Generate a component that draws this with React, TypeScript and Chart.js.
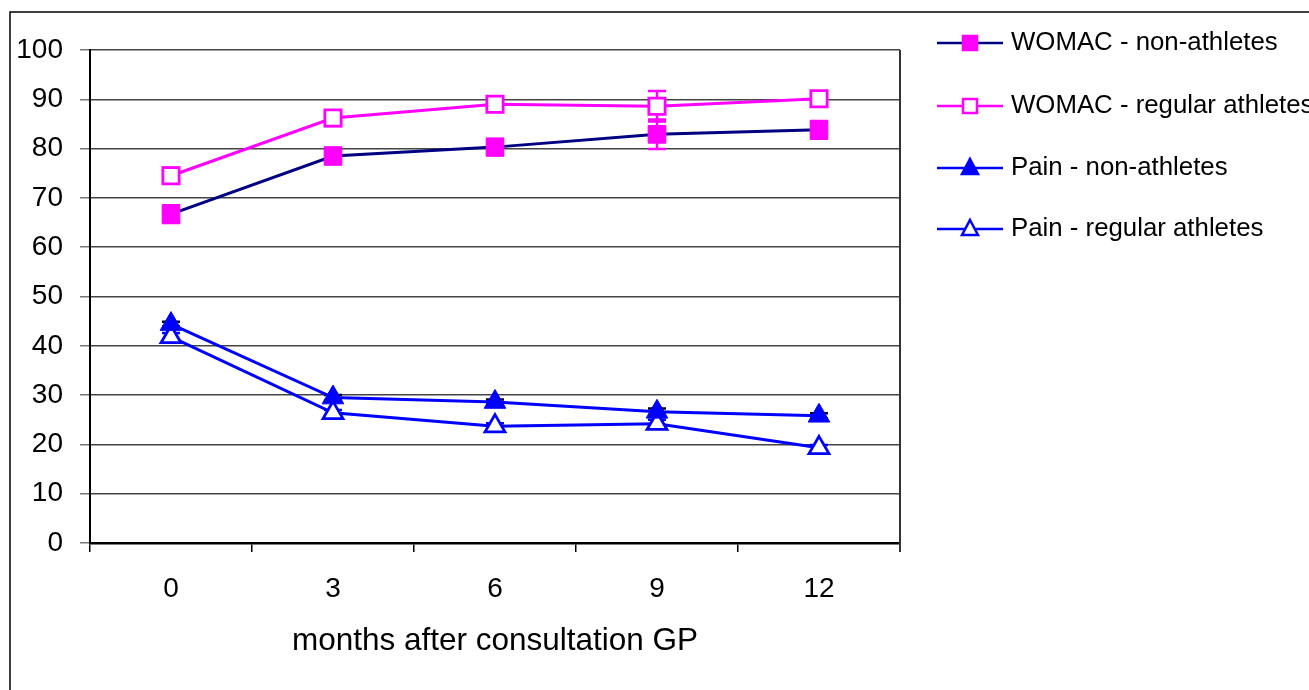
import React, { useEffect, useRef } from 'react';
import { Chart, registerables } from 'chart.js';
Chart.register(...registerables);

const FONT = '"Liberation Sans", Arial, sans-serif';

const categories = ['0', '3', '6', '9', '12'];
const yTicks = [0, 10, 20, 30, 40, 50, 60, 70, 80, 90, 100];

const womacNon = [66.7, 78.5, 80.3, 82.9, 83.8];
const womacNonErr = [1.8, 1.7, 1.7, 3.0, 1.8];
const womacReg = [74.5, 86.2, 89.0, 88.6, 90.1];
const womacRegErr = [1.6, 1.6, 1.5, 3.1, 1.3];
const painNon = [44.4, 29.5, 28.6, 26.6, 25.8];
const painNonErr = [0.5, 0.5, 0.5, 0.7, 0.5];
const painReg = [41.8, 26.4, 23.7, 24.2, 19.3];
const painRegErr = [0.8, 0.6, 0.6, 0.8, 0.6];

const seriesNames = [
  'WOMAC - non-athletes',
  'WOMAC - regular athletes',
  'Pain - non-athletes',
  'Pain - regular athletes',
];
const xTitle = 'months after consultation GP';

const NAVY = '#000080';
const MAGENTA = '#FF00FF';
const BLUE = '#0000FF';

const errors = [womacNonErr, womacRegErr, painNonErr, painRegErr];
const errColors = [MAGENTA, MAGENTA, '#000000', BLUE];

const errorBarPlugin = {
  id: 'errorBars',
  beforeDatasetsDraw(chart: any) {
    const { ctx } = chart;
    const y = chart.scales.y;
    chart.data.datasets.forEach((ds: any, i: number) => {
      const meta = chart.getDatasetMeta(i);
      const errs = errors[i];
      ctx.save();
      ctx.strokeStyle = errColors[i];
      ctx.lineWidth = 2.5;
      meta.data.forEach((pt: any, j: number) => {
        const v = ds.data[j];
        const e = errs[j];
        const top = y.getPixelForValue(v + e);
        const bot = y.getPixelForValue(v - e);
        const x = pt.x;
        ctx.beginPath();
        ctx.moveTo(x, top);
        ctx.lineTo(x, bot);
        ctx.moveTo(x - 9, top);
        ctx.lineTo(x + 9, top);
        ctx.moveTo(x - 9, bot);
        ctx.lineTo(x + 9, bot);
        ctx.stroke();
      });
      ctx.restore();
    });
  },
};

function drawMarker(ctx: CanvasRenderingContext2D, style: string, x: number, y: number, fill: string, stroke: string) {
  ctx.save();
  ctx.fillStyle = fill;
  ctx.strokeStyle = stroke;
  ctx.lineWidth = 2.5;
  ctx.beginPath();
  if (style === 'rect') {
    ctx.rect(x - 7, y - 7, 14, 14);
  } else {
    ctx.moveTo(x, y - 9);
    ctx.lineTo(x + 8, y + 6);
    ctx.lineTo(x - 8, y + 6);
    ctx.closePath();
  }
  ctx.fill();
  ctx.stroke();
  ctx.restore();
}

const framePlugin = {
  id: 'frameAndLegend',
  afterDraw(chart: any) {
    const { ctx, chartArea } = chart;
    ctx.save();
    // right border of plot area
    ctx.strokeStyle = '#333333';
    ctx.lineWidth = 2;
    ctx.beginPath();
    ctx.moveTo(chartArea.right, chartArea.top);
    ctx.lineTo(chartArea.right, chartArea.bottom + 9);
    ctx.stroke();
    // outer frame
    ctx.strokeStyle = '#000000';
    ctx.lineWidth = 1.5;
    ctx.beginPath();
    ctx.moveTo(10, 690);
    ctx.lineTo(10, 12);
    ctx.lineTo(1309, 12);
    ctx.stroke();

    // legend
    const ys = [43, 106, 168, 229];
    chart.data.datasets.forEach((ds: any, i: number) => {
      const yy = ys[i];
      ctx.strokeStyle = ds.borderColor;
      ctx.lineWidth = 2.5;
      ctx.beginPath();
      ctx.moveTo(937, yy);
      ctx.lineTo(1003, yy);
      ctx.stroke();
      drawMarker(ctx, ds.pointStyle, 970, yy, ds.pointBackgroundColor, ds.pointBorderColor);
      ctx.fillStyle = '#000000';
      ctx.font = '25.8px ' + FONT;
      ctx.textAlign = 'left';
      ctx.textBaseline = 'middle';
      ctx.fillText(ds.label, 1011, yy);
    });
    ctx.restore();
  },
};

export default function App() {
  const ref = useRef<HTMLCanvasElement>(null);
  useEffect(() => {
    const chart = new Chart(ref.current as HTMLCanvasElement, {
      type: 'line',
      data: {
        labels: categories,
        datasets: [
          {
            label: seriesNames[0],
            data: womacNon,
            borderColor: NAVY,
            borderWidth: 3,
            pointStyle: 'rect',
            pointRadius: 12.5,
            pointBackgroundColor: MAGENTA,
            pointBorderColor: MAGENTA,
            pointBorderWidth: 1,
            tension: 0,
          },
          {
            label: seriesNames[1],
            data: womacReg,
            borderColor: MAGENTA,
            borderWidth: 3,
            pointStyle: 'rect',
            pointRadius: 11.5,
            pointBackgroundColor: '#FFFFFF',
            pointBorderColor: MAGENTA,
            pointBorderWidth: 2.8,
            tension: 0,
          },
          {
            label: seriesNames[2],
            data: painNon,
            borderColor: BLUE,
            borderWidth: 3,
            pointStyle: 'triangle',
            pointRadius: 12.5,
            pointBackgroundColor: BLUE,
            pointBorderColor: BLUE,
            pointBorderWidth: 1,
            tension: 0,
          },
          {
            label: seriesNames[3],
            data: painReg,
            borderColor: BLUE,
            borderWidth: 3,
            pointStyle: 'triangle',
            pointRadius: 11.5,
            pointBackgroundColor: '#FFFFFF',
            pointBorderColor: BLUE,
            pointBorderWidth: 2.8,
            tension: 0,
          },
        ] as any,
      },
      options: {
        animation: false,
        responsive: false,
        devicePixelRatio: 1,
        layout: { padding: { top: 50, right: 409, left: 0, bottom: 0 } },
        plugins: {
          legend: { display: false },
          tooltip: { enabled: false },
        },
        scales: {
          x: {
            type: 'category',
            offset: true,
            grid: {
              offset: true,
              drawOnChartArea: false,
              drawTicks: true,
              tickLength: 9,
              color: '#000000',
              lineWidth: 1.5,
            },
            border: { display: true, color: '#000000', width: 2.5 },
            ticks: {
              color: '#000000',
              font: { family: FONT, size: 28 },
              padding: 20,
              maxRotation: 0,
            },
            title: {
              display: true,
              text: xTitle,
              color: '#000000',
              font: { family: FONT, size: 31.5 },
              padding: { top: 0, bottom: 30 },
            },
            afterFit: (s: any) => {
              s.height = 147;
            },
          },
          y: {
            type: 'linear',
            min: 0,
            max: 100,
            afterBuildTicks: (s: any) => {
              s.ticks = yTicks.map((v) => ({ value: v }));
            },
            ticks: {
              color: '#000000',
              font: { family: FONT, size: 28 },
              padding: 17,
            },
            grid: {
              color: '#444444',
              lineWidth: 1.5,
              tickLength: 10,
              tickColor: '#777777',
            },
            border: { display: true, color: '#000000', width: 2 },
            afterFit: (s: any) => {
              s.width = 90;
            },
          },
        },
      } as any,
      plugins: [errorBarPlugin, framePlugin],
    });
    return () => chart.destroy();
  }, []);
  return (
    <div style={{ position: 'absolute', left: 0, top: 0, width: 1309, height: 690, background: '#fff' }}>
      <canvas ref={ref} width={1309} height={690} style={{ display: 'block' }} />
    </div>
  );
}
